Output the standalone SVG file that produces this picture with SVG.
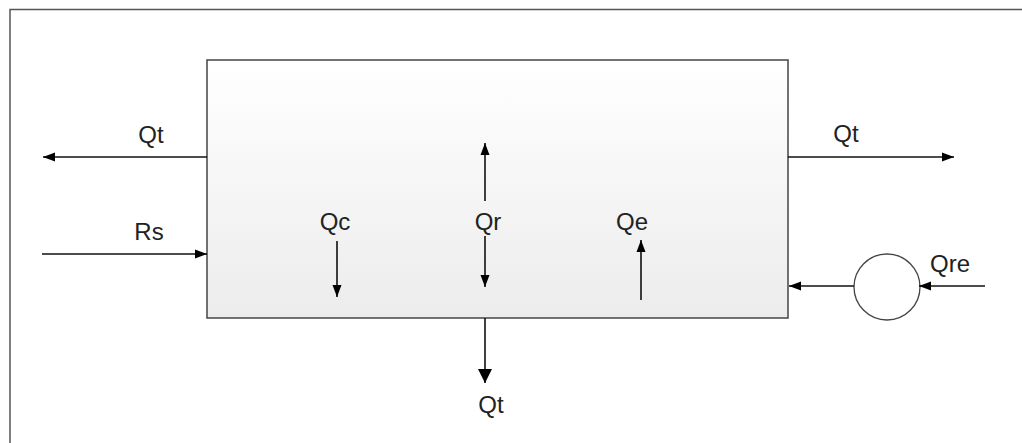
<svg xmlns="http://www.w3.org/2000/svg" width="1022" height="443" viewBox="0 0 1022 443">
<defs>
<linearGradient id="g" x1="0" y1="0" x2="0" y2="1">
<stop offset="0" stop-color="#ffffff"/>
<stop offset="1" stop-color="#ececec"/>
</linearGradient>
<marker id="ah" viewBox="0 0 12 10" refX="12" refY="5" markerWidth="12" markerHeight="10" markerUnits="userSpaceOnUse" orient="auto">
<path d="M0,0.5 L12,5 L0,9.5 Z" fill="#000"/>
</marker>
<marker id="ahb" viewBox="0 0 14 14" refX="14" refY="7" markerWidth="14" markerHeight="14" markerUnits="userSpaceOnUse" orient="auto">
<path d="M0,0 L14,7 L0,14 Z" fill="#000"/>
</marker>
</defs>
<style>
.lbl{font-family:"Liberation Sans",Arial,sans-serif;font-size:24px;fill:#222;text-anchor:middle}
.c{stroke:#111;stroke-width:1.6;fill:none;marker-end:url(#ah)}
.cb{stroke:#111;stroke-width:1.6;fill:none;marker-end:url(#ahb)}
.frame{stroke:#555;stroke-width:1.5;fill:none}
</style>
<rect width="1022" height="443" fill="#fff"/>
<g id="frame"><path class="frame" d="M10,443 L10,9.5 L1022,9.5"/></g>
<g id="tank">
<rect x="207" y="60" width="581" height="258" fill="url(#g)" stroke="#444" stroke-width="1.5"/>
</g>
<g id="pump">
<circle cx="887" cy="287" r="33" fill="#fff" stroke="#444" stroke-width="1.3"/>
</g>
<g id="connectors">
<line class="c" x1="207" y1="157" x2="43" y2="157"/>
<line class="c" x1="42" y1="254" x2="207" y2="254"/>
<line class="c" x1="788" y1="157" x2="954" y2="157"/>
<line class="c" x1="337" y1="241" x2="337" y2="297"/>
<line class="c" x1="485" y1="201" x2="485" y2="143"/>
<line class="c" x1="485" y1="236" x2="485" y2="287"/>
<line class="c" x1="641" y1="300" x2="641" y2="240"/>
<line class="cb" x1="485" y1="318" x2="485" y2="383"/>
<line class="c" x1="854" y1="286" x2="789" y2="286"/>
<line class="c" x1="985" y1="286" x2="919" y2="286"/>
</g>
<g id="labels">
<text class="lbl" x="151" y="143">Qt</text>
<text class="lbl" x="149" y="240">Rs</text>
<text class="lbl" x="335" y="230">Qc</text>
<text class="lbl" x="488" y="230">Qr</text>
<text class="lbl" x="632" y="230">Qe</text>
<text class="lbl" x="846" y="142">Qt</text>
<text class="lbl" x="950" y="272">Qre</text>
<text class="lbl" x="491" y="413">Qt</text>
</g>
</svg>
